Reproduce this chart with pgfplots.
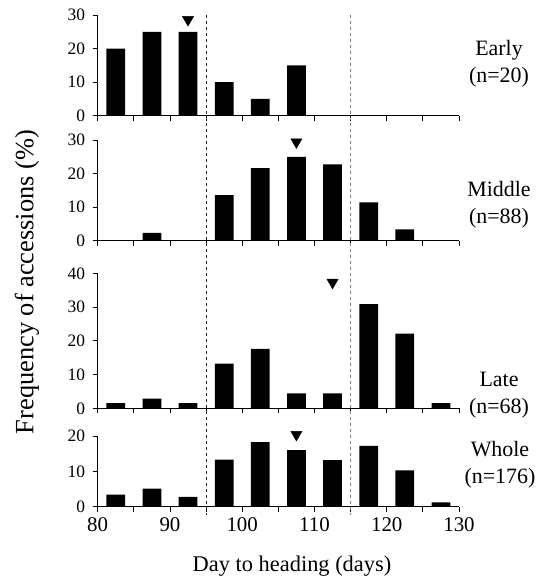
\documentclass[border=0pt]{standalone}
\usepackage{fontspec}
\setmainfont{Liberation Serif}
\usepackage{pgfplots}
\pgfplotsset{compat=1.18}

\pgfplotsset{
  panel/.style={
    scale only axis, width=361.3bp,
    xmin=80, xmax=130, ymin=0,
    axis x line=bottom, axis y line=left,
    axis line style={-, line width=0.8pt},
    xtick={80,85,...,130}, xticklabels={},
    tick align=outside, major tick length=5bp,
    tick style={black, line width=0.8pt},
    clip=false,
    /pgf/number format/assume math mode=true,
    yticklabel style={font=\fontsize{17.5}{20}\selectfont, xshift=-4bp},
  },
  bars/.style={ybar, bar width=2.6, bar shift=0pt, fill=black, draw=none},
  peak/.style={only marks, mark=triangle*, mark size=6.5,
    mark options={rotate=180, fill=black, draw=black}},
}

\begin{document}
\begin{tikzpicture}[x=1bp, y=1bp]
\path[use as bounding box] (0,0) rectangle (559,581);

% Early
\begin{axis}[panel, at={(97.7bp,465.3bp)}, anchor=south west,
  height=100.7bp, ymax=30, ytick={0,10,20,30}]
\addplot[bars] coordinates {
  (82.5,20) (87.5,25) (92.5,25) (97.5,10) (102.5,5) (107.5,15)
};
\addplot[peak] coordinates {(92.5,28.6)};
\coordinate (t95) at (axis cs:95,30);
\coordinate (t115) at (axis cs:115,30);
\end{axis}

% Middle
\begin{axis}[panel, at={(97.7bp,340.3bp)}, anchor=south west,
  height=100.7bp, ymax=30, ytick={0,10,20,30}]
\addplot[bars] coordinates {
  (87.5,2.3) (97.5,13.6) (102.5,21.6) (107.5,25.0)
  (112.5,22.7) (117.5,11.4) (122.5,3.4)
};
\addplot[peak] coordinates {(107.5,29.4)};
\end{axis}

% Late
\begin{axis}[panel, at={(97.7bp,172.7bp)}, anchor=south west,
  height=135bp, ymax=40, ytick={0,10,20,30,40}]
\addplot[bars] coordinates {
  (82.5,1.5) (87.5,2.9) (92.5,1.5) (97.5,13.2) (102.5,17.6)
  (107.5,4.4) (112.5,4.4) (117.5,30.9) (122.5,22.1) (127.5,1.5)
};
\addplot[peak] coordinates {(112.5,37.3)};
\end{axis}

% Whole
\begin{axis}[panel, at={(97.7bp,74.3bp)}, anchor=south west,
  height=70.7bp, ymax=20, ytick={0,10,20},
  xticklabels={80,,90,,100,,110,,120,,130},
  xticklabel style={font=\fontsize{21}{24}\selectfont, yshift=-2bp}]
\addplot[bars] coordinates {
  (82.5,3.4) (87.5,5.1) (92.5,2.8) (97.5,13.3) (102.5,18.3)
  (107.5,16.0) (112.5,13.2) (117.5,17.2) (122.5,10.3) (127.5,1.2)
};
\addplot[peak] coordinates {(107.5,20.4)};
\coordinate (b95) at (axis cs:95,0);
\coordinate (b115) at (axis cs:115,0);
\end{axis}

\draw[black!85, line width=0.8pt, dash pattern=on 3.5bp off 2.5bp]
  (t95) -- (t95 |- 0,66);
\draw[black!50, line width=0.8pt, dash pattern=on 3.5bp off 2.5bp]
  (t115) -- (t115 |- 0,66);

\node[rotate=90, font=\fontsize{26.5}{30}\selectfont] at (27,299)
  {Frequency of accessions (\%)};
\node[font=\fontsize{22.5}{26}\selectfont] at (292,15) {Day to heading (days)};

\begin{scope}[every node/.style={align=center,
    font=\fontsize{22}{27}\selectfont}]
\node at (499,517) {Early\\(n=20)};
\node at (499,376) {Middle\\(n=88)};
\node at (499,186) {Late\\(n=68)};
\node at (500,116) {Whole\\(n=176)};
\end{scope}
\end{tikzpicture}
\end{document}
